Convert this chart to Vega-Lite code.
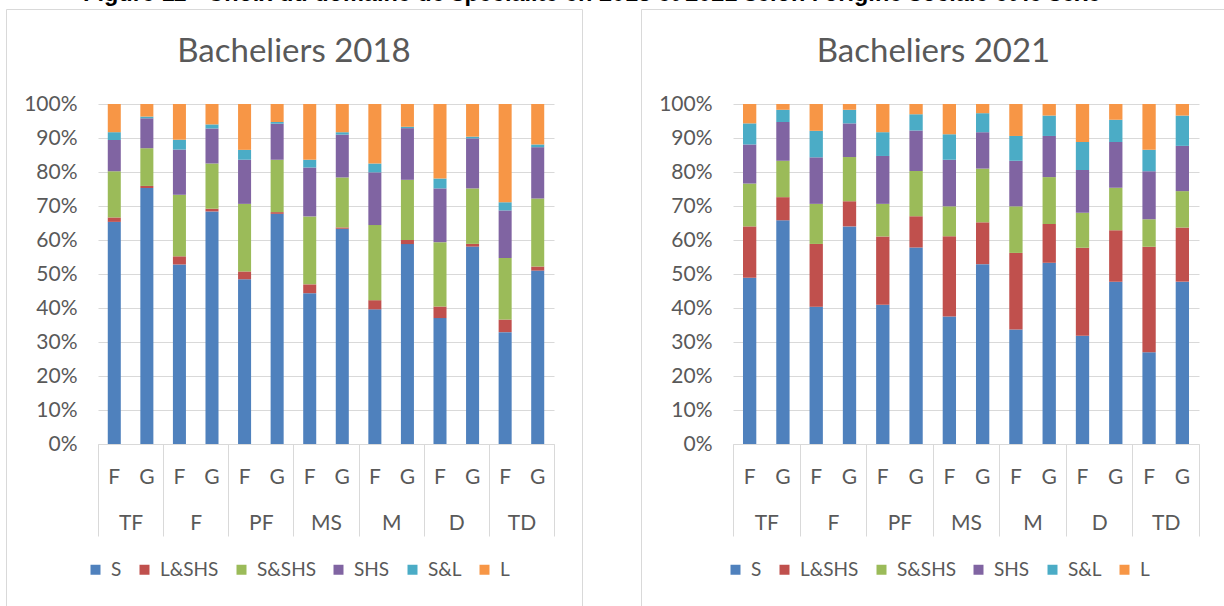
{
  "$schema": "https://vega.github.io/schema/vega-lite/v6.json",
  "padding": {"left": 5, "top": -18, "right": 0, "bottom": 0},
  "background": "white",
  "title": {"text": "Figure 11 - Choix du domaine de spécialité en 2018 et 2021 selon l'origine sociale et le sexe", "font": "Liberation Sans", "fontSize": 23.5, "fontWeight": "bold", "color": "#000000", "baseline": "alphabetic", "offset": -16, "anchor": "middle", "dx": -24},
  "datasets": {
    "y2018": [
      {"bar":"TF F","group":"TF","domain":"S","k":0,"pct":65.4},{"bar":"TF F","group":"TF","domain":"L&SHS","k":1,"pct":1.3},{"bar":"TF F","group":"TF","domain":"S&SHS","k":2,"pct":13.6},{"bar":"TF F","group":"TF","domain":"SHS","k":3,"pct":9.2},{"bar":"TF F","group":"TF","domain":"S&L","k":4,"pct":2.3},{"bar":"TF F","group":"TF","domain":"L","k":5,"pct":8.3},
      {"bar":"TF G","group":"TF","domain":"S","k":0,"pct":75.3},{"bar":"TF G","group":"TF","domain":"L&SHS","k":1,"pct":0.6},{"bar":"TF G","group":"TF","domain":"S&SHS","k":2,"pct":11.1},{"bar":"TF G","group":"TF","domain":"SHS","k":3,"pct":8.8},{"bar":"TF G","group":"TF","domain":"S&L","k":4,"pct":0.5},{"bar":"TF G","group":"TF","domain":"L","k":5,"pct":3.7},
      {"bar":"F F","group":"F","domain":"S","k":0,"pct":52.8},{"bar":"F F","group":"F","domain":"L&SHS","k":1,"pct":2.4},{"bar":"F F","group":"F","domain":"S&SHS","k":2,"pct":18.1},{"bar":"F F","group":"F","domain":"SHS","k":3,"pct":13.3},{"bar":"F F","group":"F","domain":"S&L","k":4,"pct":2.9},{"bar":"F F","group":"F","domain":"L","k":5,"pct":10.5},
      {"bar":"F G","group":"F","domain":"S","k":0,"pct":68.4},{"bar":"F G","group":"F","domain":"L&SHS","k":1,"pct":0.8},{"bar":"F G","group":"F","domain":"S&SHS","k":2,"pct":13.3},{"bar":"F G","group":"F","domain":"SHS","k":3,"pct":10.3},{"bar":"F G","group":"F","domain":"S&L","k":4,"pct":1.2},{"bar":"F G","group":"F","domain":"L","k":5,"pct":6.0},
      {"bar":"PF F","group":"PF","domain":"S","k":0,"pct":48.5},{"bar":"PF F","group":"PF","domain":"L&SHS","k":1,"pct":2.3},{"bar":"PF F","group":"PF","domain":"S&SHS","k":2,"pct":19.9},{"bar":"PF F","group":"PF","domain":"SHS","k":3,"pct":13.0},{"bar":"PF F","group":"PF","domain":"S&L","k":4,"pct":2.9},{"bar":"PF F","group":"PF","domain":"L","k":5,"pct":13.5},
      {"bar":"PF G","group":"PF","domain":"S","k":0,"pct":67.7},{"bar":"PF G","group":"PF","domain":"L&SHS","k":1,"pct":0.5},{"bar":"PF G","group":"PF","domain":"S&SHS","k":2,"pct":15.4},{"bar":"PF G","group":"PF","domain":"SHS","k":3,"pct":10.6},{"bar":"PF G","group":"PF","domain":"S&L","k":4,"pct":0.5},{"bar":"PF G","group":"PF","domain":"L","k":5,"pct":5.3},
      {"bar":"MS F","group":"MS","domain":"S","k":0,"pct":44.4},{"bar":"MS F","group":"MS","domain":"L&SHS","k":1,"pct":2.6},{"bar":"MS F","group":"MS","domain":"S&SHS","k":2,"pct":20.0},{"bar":"MS F","group":"MS","domain":"SHS","k":3,"pct":14.4},{"bar":"MS F","group":"MS","domain":"S&L","k":4,"pct":2.3},{"bar":"MS F","group":"MS","domain":"L","k":5,"pct":16.4},
      {"bar":"MS G","group":"MS","domain":"S","k":0,"pct":63.3},{"bar":"MS G","group":"MS","domain":"L&SHS","k":1,"pct":0.4},{"bar":"MS G","group":"MS","domain":"S&SHS","k":2,"pct":14.7},{"bar":"MS G","group":"MS","domain":"SHS","k":3,"pct":12.6},{"bar":"MS G","group":"MS","domain":"S&L","k":4,"pct":0.7},{"bar":"MS G","group":"MS","domain":"L","k":5,"pct":8.3},
      {"bar":"M F","group":"M","domain":"S","k":0,"pct":39.6},{"bar":"M F","group":"M","domain":"L&SHS","k":1,"pct":2.7},{"bar":"M F","group":"M","domain":"S&SHS","k":2,"pct":22.1},{"bar":"M F","group":"M","domain":"SHS","k":3,"pct":15.5},{"bar":"M F","group":"M","domain":"S&L","k":4,"pct":2.6},{"bar":"M F","group":"M","domain":"L","k":5,"pct":17.5},
      {"bar":"M G","group":"M","domain":"S","k":0,"pct":58.8},{"bar":"M G","group":"M","domain":"L&SHS","k":1,"pct":1.2},{"bar":"M G","group":"M","domain":"S&SHS","k":2,"pct":17.7},{"bar":"M G","group":"M","domain":"SHS","k":3,"pct":15.2},{"bar":"M G","group":"M","domain":"S&L","k":4,"pct":0.4},{"bar":"M G","group":"M","domain":"L","k":5,"pct":6.7},
      {"bar":"D F","group":"D","domain":"S","k":0,"pct":37.0},{"bar":"D F","group":"D","domain":"L&SHS","k":1,"pct":3.4},{"bar":"D F","group":"D","domain":"S&SHS","k":2,"pct":18.9},{"bar":"D F","group":"D","domain":"SHS","k":3,"pct":15.8},{"bar":"D F","group":"D","domain":"S&L","k":4,"pct":2.9},{"bar":"D F","group":"D","domain":"L","k":5,"pct":21.9},
      {"bar":"D G","group":"D","domain":"S","k":0,"pct":58.0},{"bar":"D G","group":"D","domain":"L&SHS","k":1,"pct":0.8},{"bar":"D G","group":"D","domain":"S&SHS","k":2,"pct":16.3},{"bar":"D G","group":"D","domain":"SHS","k":3,"pct":14.7},{"bar":"D G","group":"D","domain":"S&L","k":4,"pct":0.5},{"bar":"D G","group":"D","domain":"L","k":5,"pct":9.6},
      {"bar":"TD F","group":"TD","domain":"S","k":0,"pct":32.9},{"bar":"TD F","group":"TD","domain":"L&SHS","k":1,"pct":3.7},{"bar":"TD F","group":"TD","domain":"S&SHS","k":2,"pct":18.1},{"bar":"TD F","group":"TD","domain":"SHS","k":3,"pct":14.0},{"bar":"TD F","group":"TD","domain":"S&L","k":4,"pct":2.4},{"bar":"TD F","group":"TD","domain":"L","k":5,"pct":28.9},
      {"bar":"TD G","group":"TD","domain":"S","k":0,"pct":51.0},{"bar":"TD G","group":"TD","domain":"L&SHS","k":1,"pct":1.2},{"bar":"TD G","group":"TD","domain":"S&SHS","k":2,"pct":20.0},{"bar":"TD G","group":"TD","domain":"SHS","k":3,"pct":15.1},{"bar":"TD G","group":"TD","domain":"S&L","k":4,"pct":0.8},{"bar":"TD G","group":"TD","domain":"L","k":5,"pct":11.9}
    ],
    "y2021": [
      {"bar":"TF F","group":"TF","domain":"S","k":0,"pct":48.9},{"bar":"TF F","group":"TF","domain":"L&SHS","k":1,"pct":15.1},{"bar":"TF F","group":"TF","domain":"S&SHS","k":2,"pct":12.6},{"bar":"TF F","group":"TF","domain":"SHS","k":3,"pct":11.5},{"bar":"TF F","group":"TF","domain":"S&L","k":4,"pct":6.2},{"bar":"TF F","group":"TF","domain":"L","k":5,"pct":5.7},
      {"bar":"TF G","group":"TF","domain":"S","k":0,"pct":65.8},{"bar":"TF G","group":"TF","domain":"L&SHS","k":1,"pct":6.8},{"bar":"TF G","group":"TF","domain":"S&SHS","k":2,"pct":10.7},{"bar":"TF G","group":"TF","domain":"SHS","k":3,"pct":11.4},{"bar":"TF G","group":"TF","domain":"S&L","k":4,"pct":3.6},{"bar":"TF G","group":"TF","domain":"L","k":5,"pct":1.7},
      {"bar":"F F","group":"F","domain":"S","k":0,"pct":40.4},{"bar":"F F","group":"F","domain":"L&SHS","k":1,"pct":18.5},{"bar":"F F","group":"F","domain":"S&SHS","k":2,"pct":11.8},{"bar":"F F","group":"F","domain":"SHS","k":3,"pct":13.7},{"bar":"F F","group":"F","domain":"S&L","k":4,"pct":7.8},{"bar":"F F","group":"F","domain":"L","k":5,"pct":7.9},
      {"bar":"F G","group":"F","domain":"S","k":0,"pct":64.0},{"bar":"F G","group":"F","domain":"L&SHS","k":1,"pct":7.4},{"bar":"F G","group":"F","domain":"S&SHS","k":2,"pct":13.0},{"bar":"F G","group":"F","domain":"SHS","k":3,"pct":9.9},{"bar":"F G","group":"F","domain":"S&L","k":4,"pct":4.0},{"bar":"F G","group":"F","domain":"L","k":5,"pct":1.7},
      {"bar":"PF F","group":"PF","domain":"S","k":0,"pct":41.0},{"bar":"PF F","group":"PF","domain":"L&SHS","k":1,"pct":20.1},{"bar":"PF F","group":"PF","domain":"S&SHS","k":2,"pct":9.6},{"bar":"PF F","group":"PF","domain":"SHS","k":3,"pct":14.1},{"bar":"PF F","group":"PF","domain":"S&L","k":4,"pct":7.0},{"bar":"PF F","group":"PF","domain":"L","k":5,"pct":8.3},
      {"bar":"PF G","group":"PF","domain":"S","k":0,"pct":57.7},{"bar":"PF G","group":"PF","domain":"L&SHS","k":1,"pct":9.2},{"bar":"PF G","group":"PF","domain":"S&SHS","k":2,"pct":13.3},{"bar":"PF G","group":"PF","domain":"SHS","k":3,"pct":11.9},{"bar":"PF G","group":"PF","domain":"S&L","k":4,"pct":4.8},{"bar":"PF G","group":"PF","domain":"L","k":5,"pct":3.0},
      {"bar":"MS F","group":"MS","domain":"S","k":0,"pct":37.5},{"bar":"MS F","group":"MS","domain":"L&SHS","k":1,"pct":23.6},{"bar":"MS F","group":"MS","domain":"S&SHS","k":2,"pct":8.8},{"bar":"MS F","group":"MS","domain":"SHS","k":3,"pct":13.7},{"bar":"MS F","group":"MS","domain":"S&L","k":4,"pct":7.5},{"bar":"MS F","group":"MS","domain":"L","k":5,"pct":8.9},
      {"bar":"MS G","group":"MS","domain":"S","k":0,"pct":52.9},{"bar":"MS G","group":"MS","domain":"L&SHS","k":1,"pct":12.3},{"bar":"MS G","group":"MS","domain":"S&SHS","k":2,"pct":15.8},{"bar":"MS G","group":"MS","domain":"SHS","k":3,"pct":10.7},{"bar":"MS G","group":"MS","domain":"S&L","k":4,"pct":5.6},{"bar":"MS G","group":"MS","domain":"L","k":5,"pct":2.7},
      {"bar":"M F","group":"M","domain":"S","k":0,"pct":33.7},{"bar":"M F","group":"M","domain":"L&SHS","k":1,"pct":22.5},{"bar":"M F","group":"M","domain":"S&SHS","k":2,"pct":13.7},{"bar":"M F","group":"M","domain":"SHS","k":3,"pct":13.4},{"bar":"M F","group":"M","domain":"S&L","k":4,"pct":7.3},{"bar":"M F","group":"M","domain":"L","k":5,"pct":9.4},
      {"bar":"M G","group":"M","domain":"S","k":0,"pct":53.3},{"bar":"M G","group":"M","domain":"L&SHS","k":1,"pct":11.4},{"bar":"M G","group":"M","domain":"S&SHS","k":2,"pct":13.8},{"bar":"M G","group":"M","domain":"SHS","k":3,"pct":12.1},{"bar":"M G","group":"M","domain":"S&L","k":4,"pct":6.0},{"bar":"M G","group":"M","domain":"L","k":5,"pct":3.4},
      {"bar":"D F","group":"D","domain":"S","k":0,"pct":31.9},{"bar":"D F","group":"D","domain":"L&SHS","k":1,"pct":25.9},{"bar":"D F","group":"D","domain":"S&SHS","k":2,"pct":10.3},{"bar":"D F","group":"D","domain":"SHS","k":3,"pct":12.6},{"bar":"D F","group":"D","domain":"S&L","k":4,"pct":8.2},{"bar":"D F","group":"D","domain":"L","k":5,"pct":11.2},
      {"bar":"D G","group":"D","domain":"S","k":0,"pct":47.7},{"bar":"D G","group":"D","domain":"L&SHS","k":1,"pct":15.2},{"bar":"D G","group":"D","domain":"S&SHS","k":2,"pct":12.5},{"bar":"D G","group":"D","domain":"SHS","k":3,"pct":13.4},{"bar":"D G","group":"D","domain":"S&L","k":4,"pct":6.6},{"bar":"D G","group":"D","domain":"L","k":5,"pct":4.6},
      {"bar":"TD F","group":"TD","domain":"S","k":0,"pct":27.0},{"bar":"TD F","group":"TD","domain":"L&SHS","k":1,"pct":31.1},{"bar":"TD F","group":"TD","domain":"S&SHS","k":2,"pct":8.1},{"bar":"TD F","group":"TD","domain":"SHS","k":3,"pct":14.1},{"bar":"TD F","group":"TD","domain":"S&L","k":4,"pct":6.3},{"bar":"TD F","group":"TD","domain":"L","k":5,"pct":13.5},
      {"bar":"TD G","group":"TD","domain":"S","k":0,"pct":47.7},{"bar":"TD G","group":"TD","domain":"L&SHS","k":1,"pct":15.9},{"bar":"TD G","group":"TD","domain":"S&SHS","k":2,"pct":10.7},{"bar":"TD G","group":"TD","domain":"SHS","k":3,"pct":13.3},{"bar":"TD G","group":"TD","domain":"S&L","k":4,"pct":8.9},{"bar":"TD G","group":"TD","domain":"L","k":5,"pct":3.4}
    ]
  },
  "hconcat": [
    {
      "width": 576,
      "height": 600,
      "title": {"text": "Bacheliers 2018", "frame": "group", "anchor": "middle", "baseline": "alphabetic", "offset": -86, "fontSize": 33, "font": "Lato", "fontWeight": "normal", "color": "#595959"},
      "data": {"name": "y2018"},
      "layer": [
        {
          "mark": {"type": "bar"},
          "encoding": {
            "x": {"field": "bar", "type": "nominal", "sort": null, "scale": {"range": [92, 548], "paddingInner": 0.6, "paddingOuter": 0.3},
              "axis": {"orient": "bottom", "offset": -165, "title": null, "ticks": false, "domain": true, "domainColor": "#D9D9D9", "domainWidth": 1, "grid": false, "labelExpr": "substring(datum.label, length(datum.label) - 1)", "labelAngle": 0, "labelPadding": 22, "labelFont": "Lato", "labelFontSize": 21, "labelColor": "#595959"}},
            "y": {"field": "pct", "type": "quantitative", "stack": "normalize", "scale": {"domain": [0, 1], "range": [435, 95]},
              "axis": {"orient": "left", "offset": -92, "title": null, "values": [0, 0.1, 0.2, 0.3, 0.4, 0.5, 0.6, 0.7, 0.8, 0.9, 1], "format": ".0%", "ticks": false, "domain": false, "grid": true, "gridColor": "#D9D9D9", "gridWidth": 1, "labelPadding": 21, "labelFont": "Lato", "labelFontSize": 21, "labelColor": "#595959"}},
            "color": {"field": "domain", "type": "nominal",
              "scale": {"domain": ["S", "L&SHS", "S&SHS", "SHS", "S&L", "L"], "range": ["#4F81BD", "#C0504D", "#9BBB59", "#8064A2", "#4BACC6", "#F79646"]},
              "legend": {"orient": "none", "legendX": 80, "legendY": 551, "direction": "horizontal", "title": null, "symbolType": "square", "symbolSize": 100, "symbolStrokeWidth": 0, "labelFont": "Lato", "labelFontSize": 19, "labelColor": "#595959", "columnPadding": 13, "labelOffset": 6}},
            "order": {"field": "k", "type": "quantitative"}
          }
        },
        {
          "mark": {"type": "tick", "opacity": 0},
          "encoding": {
            "x": {"field": "group", "type": "nominal", "sort": null, "scale": {"range": [92, 548], "paddingInner": 0, "paddingOuter": 0},
              "axis": {"orient": "bottom", "offset": -165, "title": null, "domain": false, "ticks": true, "tickBand": "extent", "tickSize": 92, "tickColor": "#D9D9D9", "tickWidth": 1, "grid": false, "labelPadding": -24, "labelAngle": 0, "labelFont": "Lato", "labelFontSize": 21, "labelColor": "#595959"}}
          }
        }
      ],
      "resolve": {"scale": {"x": "independent"}, "axis": {"x": "independent"}}
    },
    {
      "width": 585,
      "height": 600,
      "title": {"text": "Bacheliers 2021", "frame": "group", "anchor": "middle", "baseline": "alphabetic", "offset": -86, "fontSize": 33, "font": "Lato", "fontWeight": "normal", "color": "#595959"},
      "data": {"name": "y2021"},
      "layer": [
        {
          "mark": {"type": "bar"},
          "encoding": {
            "x": {"field": "bar", "type": "nominal", "sort": null, "scale": {"range": [92, 558], "paddingInner": 0.6, "paddingOuter": 0.3},
              "axis": {"orient": "bottom", "offset": -165, "title": null, "ticks": false, "domain": true, "domainColor": "#D9D9D9", "domainWidth": 1, "grid": false, "labelExpr": "substring(datum.label, length(datum.label) - 1)", "labelAngle": 0, "labelPadding": 22, "labelFont": "Lato", "labelFontSize": 21, "labelColor": "#595959"}},
            "y": {"field": "pct", "type": "quantitative", "stack": "normalize", "scale": {"domain": [0, 1], "range": [435, 95]},
              "axis": {"orient": "left", "offset": -92, "title": null, "values": [0, 0.1, 0.2, 0.3, 0.4, 0.5, 0.6, 0.7, 0.8, 0.9, 1], "format": ".0%", "ticks": false, "domain": false, "grid": true, "gridColor": "#D9D9D9", "gridWidth": 1, "labelPadding": 21, "labelFont": "Lato", "labelFontSize": 21, "labelColor": "#595959"}},
            "color": {"field": "domain", "type": "nominal",
              "scale": {"domain": ["S", "L&SHS", "S&SHS", "SHS", "S&L", "L"], "range": ["#4F81BD", "#C0504D", "#9BBB59", "#8064A2", "#4BACC6", "#F79646"]},
              "legend": {"orient": "none", "legendX": 85, "legendY": 551, "direction": "horizontal", "title": null, "symbolType": "square", "symbolSize": 100, "symbolStrokeWidth": 0, "labelFont": "Lato", "labelFontSize": 19, "labelColor": "#595959", "columnPadding": 13, "labelOffset": 6}},
            "order": {"field": "k", "type": "quantitative"}
          }
        },
        {
          "mark": {"type": "tick", "opacity": 0},
          "encoding": {
            "x": {"field": "group", "type": "nominal", "sort": null, "scale": {"range": [92, 558], "paddingInner": 0, "paddingOuter": 0},
              "axis": {"orient": "bottom", "offset": -165, "title": null, "domain": false, "ticks": true, "tickBand": "extent", "tickSize": 92, "tickColor": "#D9D9D9", "tickWidth": 1, "grid": false, "labelPadding": -24, "labelAngle": 0, "labelFont": "Lato", "labelFontSize": 21, "labelColor": "#595959"}}
          }
        }
      ],
      "resolve": {"scale": {"x": "independent"}, "axis": {"x": "independent"}}
    }
  ],
  "spacing": 57,
  "resolve": {"scale": {"color": "independent"}, "legend": {"color": "independent"}},
  "config": {"view": {"stroke": "#D9D9D9", "strokeWidth": 1}, "font": "Lato"}
}
